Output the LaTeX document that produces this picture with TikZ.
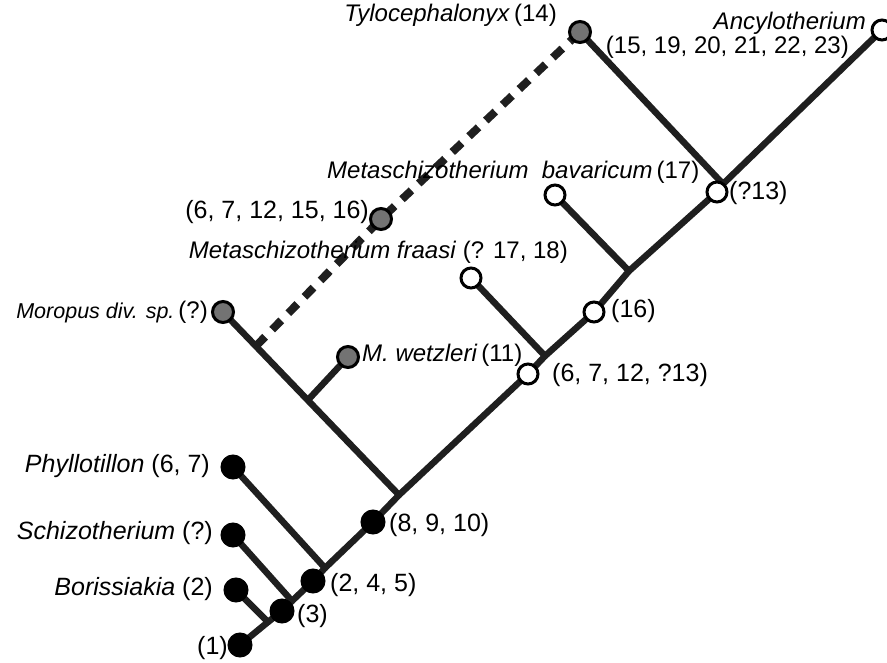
\documentclass[tikz,border=0pt]{standalone}
\usepackage{fontspec}
\setmainfont{Liberation Sans}
\begin{document}
\begin{tikzpicture}[x=1pt,y=-1pt,
  branch/.style={line width=6.5pt, line cap=round, draw=black!88},
  dashbranch/.style={line width=8pt, draw=black!88, dash pattern=on 13pt off 10pt},
  blackdot/.style={circle, fill=black, draw=black, line width=1pt, minimum size=24pt, inner sep=0pt},
  greydot/.style={circle, fill=black!55, draw=black, line width=3pt, minimum size=21pt, inner sep=0pt},
  opendot/.style={circle, fill=white, draw=black, line width=3pt, minimum size=20pt, inner sep=0pt},
  lab/.style={inner sep=0pt, font=\fontsize{24}{28}\selectfont},
  biglab/.style={inner sep=0pt, font=\fontsize{25}{29}\selectfont},
]
\useasboundingbox (0,0) rectangle (887,663);
% coordinates
\coordinate (c1) at (240,645);
\coordinate (cB) at (236,590);
\coordinate (j1) at (268,622);
\coordinate (c3) at (282,611);
\coordinate (jS) at (292,601);
\coordinate (cS) at (233,535);
\coordinate (c245) at (313,581);
\coordinate (jP) at (325,568);
\coordinate (cP) at (233,467);
\coordinate (c8) at (373,522);
\coordinate (jM) at (399,495);
\coordinate (cMor) at (223,312);
\coordinate (jW) at (308,400);
\coordinate (cW) at (348,357);
\coordinate (jD) at (256,346);
\coordinate (cG) at (381,219);
\coordinate (cT) at (580,32);
\coordinate (c6) at (528,374);
\coordinate (jF) at (545,356);
\coordinate (cF) at (471,278);
\coordinate (c16) at (594,312);
\coordinate (jBa) at (629,271);
\coordinate (cBa) at (555,195);
\coordinate (c13) at (717,192);
\coordinate (jT) at (723,184);
\coordinate (cA) at (882,30);
% branches
\draw[branch] (c1) -- (j1) -- (c3) -- (jS) -- (c245) -- (jP) -- (c8) -- (jM) -- (c6) -- (jF) -- (c16) -- (jBa) -- (c13) -- (jT) -- (cA);
\draw[branch] (cB) -- (j1);
\draw[branch] (cS) -- (jS);
\draw[branch] (cP) -- (jP);
\draw[branch] (cMor) -- (jM);
\draw[branch] (jW) -- (cW);
\draw[branch] (cF) -- (jF);
\draw[branch] (cBa) -- (jBa);
\draw[branch] (cT) -- (jT);
\draw[dashbranch] (jD) -- (cG) -- (cT);
% dots
\node[blackdot] (n1) at (c1) {};
\node[blackdot] (nB) at (cB) {};
\node[blackdot] (n3) at (c3) {};
\node[blackdot] (nS) at (cS) {};
\node[blackdot] (n245) at (c245) {};
\node[blackdot] (nP) at (cP) {};
\node[blackdot] (n8) at (c8) {};
\node[greydot] (nMor) at (cMor) {};
\node[greydot] (nW) at (cW) {};
\node[greydot] (nG) at (cG) {};
\node[greydot] (nT) at (cT) {};
\node[opendot] (n6) at (c6) {};
\node[opendot] (nF) at (cF) {};
\node[opendot] (n16) at (c16) {};
\node[opendot] (nBa) at (cBa) {};
\node[opendot] (n13) at (c13) {};
\node[opendot] (nA) at (cA) {};
% labels
\node[biglab, anchor=east] (l1) at (228,648) {(1)};
\node[biglab, anchor=east] (lB) at (213,589) {\textit{Borissiakia} (2)};
\node[biglab, anchor=east] (lS) at (213,533) {\textit{Schizotherium} (?)};
\node[biglab, anchor=east] (lP) at (210,466) {\textit{Phyllotillon} (6, 7)};
\node[biglab, anchor=west] (l3) at (297,616) {(3)};
\node[biglab, anchor=west] (l245) at (330,585) {(2, 4, 5)};
\node[biglab, anchor=west] (l8) at (389,525) {(8, 9, 10)};
\node[biglab, anchor=west] (l6) at (552,375) {(6, 7, 12, ?13)};
\node[biglab, anchor=west] (l16) at (611,311) {(16)};
\node[biglab, anchor=west] (l13) at (729,193) {(?13)};
\node[lab, anchor=west] (lW) at (362,355) {\textit{M. wetzleri}\,(11)};
\node[lab, anchor=east] (lF) at (568,252) {\textit{Metaschizotherium fraasi} (? 17, 18)};
\node[biglab, anchor=east] (lG) at (369,212) {(6, 7, 12, 15, 16)};
\node[lab, anchor=east] (lMor) at (208,312) {{\fontsize{21.5}{25}\selectfont\textit{Moropus div. sp.}}\,(?)};
\node[lab, anchor=west] (lBa) at (327,172) {\textit{Metaschizotherium\ \ bavaricum}\,(17)};
\node[lab, anchor=east] (lT) at (557,15) {\textit{Tylocephalonyx}\,(14)};
\node[lab, anchor=east] (lA) at (866,23) {\textit{Ancylotherium}};
\node[lab, anchor=east] (lA2) at (849,47) {(15, 19, 20, 21, 22, 23)};
\end{tikzpicture}
\end{document}
